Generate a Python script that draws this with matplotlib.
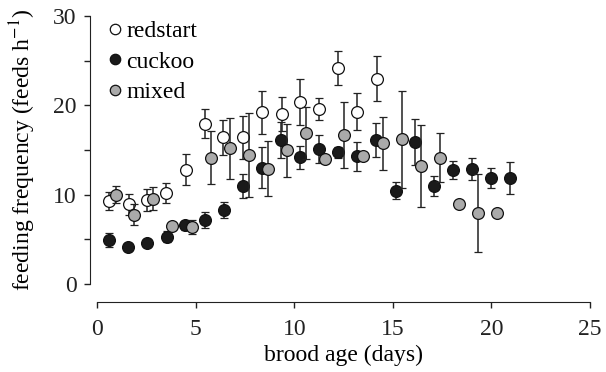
import matplotlib
matplotlib.use('Agg')
import matplotlib.pyplot as plt
from matplotlib.lines import Line2D

# font serif tipo Times
plt.rcParams['font.family'] = 'Liberation Serif'
plt.rcParams['mathtext.fontset'] = 'stix'

# redstart (cerchi vuoti)
red_x = [0.6, 1.6, 2.5, 3.5, 4.5, 5.45, 6.4, 7.4, 8.35, 9.35, 10.3, 11.27, 12.23, 13.2, 14.17]
red_y = [9.3, 8.9, 9.4, 10.2, 12.8, 17.95, 16.4, 16.4, 19.2, 19.0, 20.4, 19.6, 24.2, 19.3, 23.0]
red_e = [1.0, 1.2, 1.2, 1.1, 1.7, 1.6, 1.95, 2.4, 2.4, 1.9, 2.6, 1.2, 1.9, 2.1, 2.5]

# cuckoo (cerchi neri)
cuc_x = [0.6, 1.57, 2.54, 3.52, 4.45, 5.45, 6.43, 7.38, 8.36, 9.34, 10.29, 11.27, 12.23, 13.2, 14.15,
         15.15, 16.1, 17.09, 18.06, 19.02, 19.98, 20.95]
cuc_y = [4.9, 4.1, 4.55, 5.3, 6.6, 7.15, 8.3, 11.0, 13.0, 16.1, 14.2, 15.1, 14.75, 14.3, 16.1,
         10.45, 15.9, 10.95, 12.75, 12.85, 11.9, 11.9]
cuc_e = [0.8, 0.3, 0.3, 0.65, 0.5, 0.9, 0.9, 1.35, 2.3, 2.0, 1.3, 1.6, 0.6, 1.6, 1.9,
         0.95, 2.6, 1.1, 1.05, 1.2, 1.1, 1.8]

# mixed (cerchi grigi)
mix_x = [0.93, 1.88, 2.84, 3.81, 4.79, 5.77, 6.74, 7.7, 8.68, 9.64, 10.6, 11.56, 12.54, 13.5, 14.49,
         15.45, 16.43, 17.4, 18.36, 19.32, 20.27]
mix_y = [10.0, 7.75, 9.55, 6.45, 6.35, 14.15, 15.2, 14.4, 12.9, 14.95, 16.9, 13.95, 16.7, 14.35, 15.75,
         16.2, 13.2, 14.15, 8.95, 7.95, 7.95]
mix_e = [0.95, 1.2, 1.3, 0.3, 0.8, 3.0, 3.4, 4.7, 3.1, 3.0, 2.9, 0.4, 3.7, 0.3, 3.0,
         5.4, 4.6, 2.7, 0.0, 4.4, 0.0]

x_ticks = [0, 5, 10, 15, 20, 25]
y_ticks = [0, 10, 20, 30]
y_minor = [5, 15, 25]

fig = plt.figure(figsize=(6.06, 3.72), dpi=100)
ax = fig.add_axes([97.3 / 606, 1 - 284 / 372, (590 - 97.3) / 606, (284 - 16) / 372])

# stile comune per le barre di errore
stile = dict(fmt='o', ms=8.5, mec='#111111', mew=0.9, ecolor='#222222',
             elinewidth=1.1, capsize=2.6, capthick=1.1, clip_on=False)

ax.errorbar(red_x, red_y, yerr=red_e, mfc='white', zorder=3, **stile)
ax.errorbar(cuc_x, cuc_y, yerr=cuc_e, mfc='#1a1a1a', zorder=4, **stile)
ax.errorbar(mix_x, mix_y, yerr=mix_e, mfc='#aaaaaa', zorder=5, **stile)

ax.set_xlim(0, 25)
ax.set_ylim(0, 30)
ax.set_xticks(x_ticks)
ax.set_yticks(y_ticks)
ax.set_yticks(y_minor, minor=True)
ax.tick_params(axis='both', which='both', direction='out', length=4, width=1, labelsize=17, colors='#222222')
ax.tick_params(axis='x', which='major', pad=8)
ax.tick_params(axis='y', which='major', pad=6)

# assi staccati come nell'originale
ax.spines['top'].set_visible(False)
ax.spines['right'].set_visible(False)
ax.spines['left'].set_position(('outward', 5))
ax.spines['bottom'].set_position(('outward', 13))
ax.spines['left'].set_color('#222222')
ax.spines['bottom'].set_color('#222222')

ax.set_xlabel('brood age (days)', fontsize=17, labelpad=4)
ax.set_ylabel('feeding frequency (feeds h$^{-1}$)', fontsize=17, labelpad=11)

# legenda in alto a sinistra, solo i cerchi
maniglie = [Line2D([], [], ls='none', marker='o', ms=7.5, mec='#111111', mew=0.9, mfc=c)
            for c in ['white', '#1a1a1a', '#aaaaaa']]
leg = ax.legend(maniglie, ['redstart', 'cuckoo', 'mixed'], loc='upper left',
                bbox_to_anchor=(-0.016, 1.037), frameon=False, fontsize=17,
                handletextpad=-0.03, labelspacing=0.39, borderaxespad=0.2, handlelength=1.0)

fig.savefig('out.png', dpi=100)
